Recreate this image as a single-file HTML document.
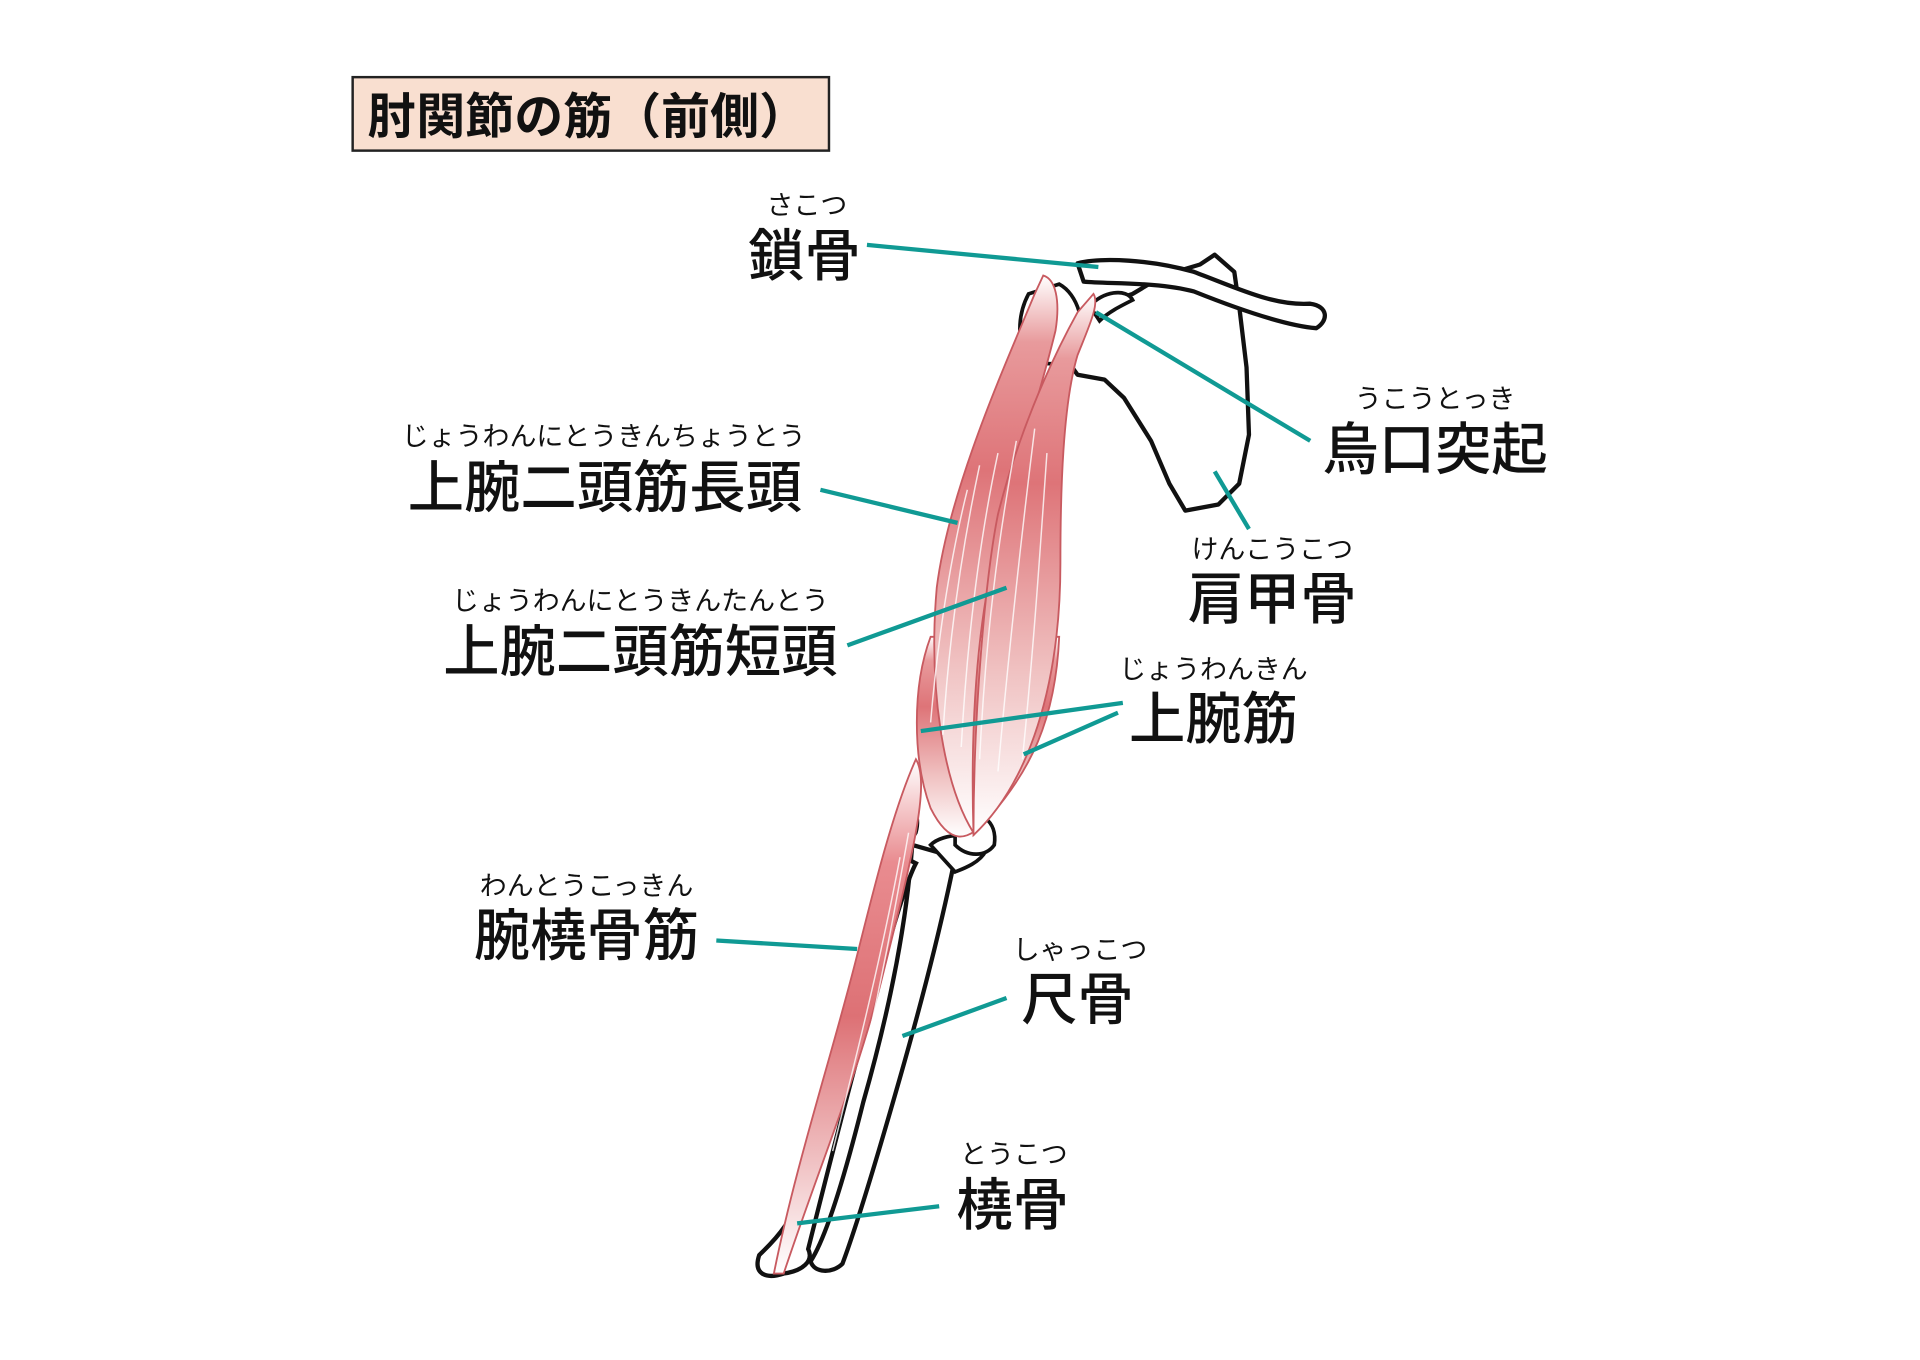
<!DOCTYPE html>
<html><head><meta charset="utf-8"><style>
html,body{margin:0;padding:0;background:#fff}
svg{display:block}
text{font-family:"Liberation Sans","Noto Sans CJK JP",sans-serif;fill:#111}
.m{font-size:46px;font-weight:500}
.f{font-size:22px}
</style></head><body>
<svg width="1920" height="1360" viewBox="0 0 1568 1110.6" preserveAspectRatio="none" xmlns="http://www.w3.org/2000/svg">
<defs>
<linearGradient id="mg" x1="0" y1="0" x2="0" y2="1">
<stop offset="0" stop-color="#fff"/><stop offset="0.12" stop-color="#e89a9c"/><stop offset="0.35" stop-color="#de7478"/><stop offset="0.7" stop-color="#f0c2c2"/><stop offset="1" stop-color="#fff"/>
</linearGradient>
<linearGradient id="bg2" x1="0" y1="0" x2="0" y2="1">
<stop offset="0" stop-color="#fff"/><stop offset="0.2" stop-color="#e98c90"/><stop offset="0.5" stop-color="#dd7175"/><stop offset="1" stop-color="#fff"/>
</linearGradient>
</defs>
<rect x="288" y="63" width="389" height="60" fill="#f9dfd0" stroke="#222" stroke-width="2"/>
<text x="300" y="109" style="font-size:40px;font-weight:bold">肘関節の筋（前側）</text>

<!-- scapula -->
<path d="M980,216 L992,208 L1008,222 L1012,250 L1018,300 L1020,355 L1012,395 L995,412 L968,417 L955,395 L940,360 L918,325 L902,310 L880,306 L872,295 L878,270 L895,250 L925,240 L950,225 Z" fill="#fff" stroke="#111" stroke-width="3.5" stroke-linejoin="round"/>
<!-- clavicle -->
<path d="M880,215 C900,210 940,212 975,222 C1010,235 1040,250 1070,248 C1085,250 1085,262 1075,268 C1050,266 1010,252 975,238 C945,230 905,232 885,230 Z" fill="#fff" stroke="#111" stroke-width="3.5" stroke-linejoin="round"/>
<!-- humeral head -->
<path d="M840,240 C832,255 830,275 838,290 C850,300 870,300 880,285 C888,265 880,240 865,232 Z" fill="#fff" stroke="#111" stroke-width="3"/>
<path d="M890,250 C900,238 920,235 925,245 C915,250 905,255 898,262 Z" fill="#fff" stroke="#111" stroke-width="3"/>

<!-- forearm bones -->
<path d="M745,690 C740,760 725,830 705,900 C690,960 675,1010 662,1030 C665,1040 680,1040 688,1032 C700,1000 715,950 735,880 C755,810 770,750 780,700 Z" fill="#fff" stroke="#111" stroke-width="3.5"/>
<path d="M760,690 C770,680 800,678 805,695 C800,705 785,710 780,712 Z" fill="#fff" stroke="#111" stroke-width="3"/>
<path d="M780,665 C800,660 815,670 812,690 C805,700 790,700 780,690 Z" fill="#fff" stroke="#111" stroke-width="3"/>
<path d="M738,700 C720,800 690,890 660,960 C648,1000 630,1015 620,1025 C615,1040 625,1045 640,1040 C655,1038 665,1030 660,1020 C670,980 690,900 712,820 C728,760 740,720 748,705 Z" fill="#fff" stroke="#111" stroke-width="3.5"/>
<path d="M735,660 C745,655 752,665 748,680 C742,690 735,690 733,680 Z" fill="#fff" stroke="#111" stroke-width="3"/>

<!-- brachioradialis -->
<path d="M748,620 C760,640 745,700 720,800 C700,880 670,950 640,1040 L632,1040 C650,950 680,860 700,780 C715,720 730,660 748,620 Z" fill="url(#bg2)" stroke="#c85a60" stroke-width="1.5"/>
<!-- brachialis -->
<path d="M760,520 C745,560 745,620 760,660 C775,690 790,690 810,665 C840,630 862,590 865,520 Z" fill="url(#mg)" stroke="#c85a60" stroke-width="1.5"/>
<!-- biceps long head -->
<path d="M852,225 C862,228 866,245 862,270 C850,320 830,380 815,440 C800,500 792,580 795,680 C770,640 758,560 765,480 C775,400 820,300 845,240 Z" fill="url(#mg)" stroke="#c85a60" stroke-width="1.5"/>
<!-- biceps short head -->
<path d="M893,240 C898,248 890,265 880,290 C868,330 866,400 866,460 C866,560 840,640 795,682 C795,580 805,470 815,420 C830,360 855,300 880,255 Z" fill="url(#mg)" stroke="#c85a60" stroke-width="1.5"/>
<g stroke="#fff" stroke-width="1.2" opacity="0.8" fill="none">
<path d="M800,380 C785,450 775,520 770,600"/><path d="M815,370 C800,440 790,520 785,610"/><path d="M830,360 C815,440 805,520 800,620"/><path d="M845,350 C835,430 825,520 815,630"/><path d="M855,370 C850,440 845,520 835,620"/><path d="M790,400 C775,460 765,530 760,590"/>
<path d="M735,700 C720,780 700,860 680,940"/><path d="M742,680 C728,760 710,850 690,930"/>
</g>

<!-- leader lines -->
<g stroke="#109a94" stroke-width="3.5" stroke-linecap="butt">
<line x1="708" y1="200" x2="897" y2="218"/>
<line x1="1070" y1="360" x2="895" y2="255"/>
<line x1="670" y1="400" x2="782" y2="427"/>
<line x1="692" y1="527" x2="822" y2="480"/>
<line x1="1020" y1="432" x2="992" y2="385"/>
<line x1="917" y1="574" x2="752" y2="597"/>
<line x1="913" y1="582" x2="836" y2="616"/>
<line x1="585" y1="768" x2="700" y2="775"/>
<line x1="822" y1="815" x2="737" y2="846"/>
<line x1="767" y1="985" x2="651" y2="999"/>
</g>

<!-- labels -->
<g text-anchor="middle">
<text class="f" x="659" y="175">さこつ</text>
<text class="m" x="657" y="225">鎖骨</text>
<text class="f" x="1172" y="333">うこうとっき</text>
<text class="m" x="1172" y="383">烏口突起</text>
<text class="f" x="493" y="364">じょうわんにとうきんちょうとう</text>
<text class="m" x="494" y="414">上腕二頭筋長頭</text>
<text class="f" x="523" y="498">じょうわんにとうきんたんとう</text>
<text class="m" x="523" y="548">上腕二頭筋短頭</text>
<text class="f" x="1039" y="456">けんこうこつ</text>
<text class="m" x="1039" y="505">肩甲骨</text>
<text class="f" x="991" y="554">じょうわんきん</text>
<text class="m" x="991" y="603">上腕筋</text>
<text class="f" x="479" y="731">わんとうこっきん</text>
<text class="m" x="479" y="780">腕橈骨筋</text>
<text class="f" x="882" y="783">しゃっこつ</text>
<text class="m" x="880" y="832">尺骨</text>
<text class="f" x="828" y="950">とうこつ</text>
<text class="m" x="827" y="1000">橈骨</text>
</g>
</svg>
</body></html>
